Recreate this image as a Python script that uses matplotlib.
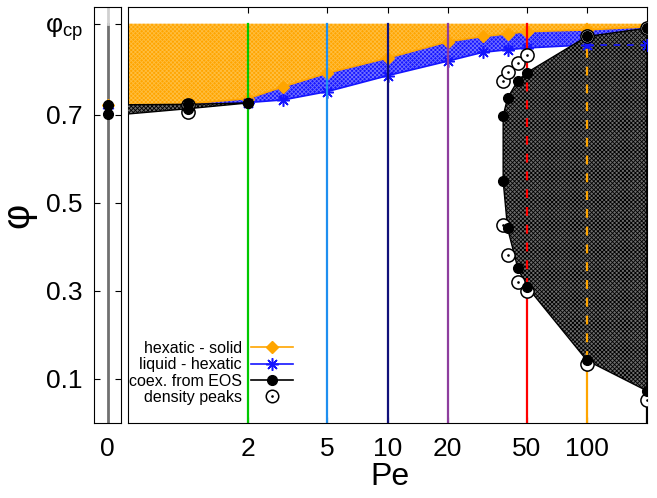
import matplotlib.pyplot as plt
import numpy as np
from matplotlib.lines import Line2D
from matplotlib.ticker import NullLocator
from matplotlib.legend_handler import HandlerTuple

plt.rcParams['font.family'] = ['Liberation Sans', 'DejaVu Sans']
plt.rcParams['mathtext.fontset'] = 'custom'
plt.rcParams['mathtext.rm'] = 'Liberation Sans'
plt.rcParams['hatch.linewidth'] = 0.6

PHI_CP = np.pi / (2 * np.sqrt(3))

# passive system (Pe = 0), left panel
phi_eos_pe0 = [0.702, 0.723]
phi_hs_pe0 = 0.722
phi_lh_pe0 = 0.716

# hexatic - solid / liquid - hexatic boundaries
pe_bound = [1, 2, 3, 5, 10, 20, 30, 40, 50, 100, 200]
phi_hs = [0.725, 0.737, 0.764, 0.795, 0.829, 0.866, 0.878, 0.884, 0.889, 0.893, 0.900]
phi_lh = [0.721, 0.728, 0.734, 0.753, 0.789, 0.822, 0.842, 0.848, 0.852, 0.859, 0.859]

# coexistence from EOS, low Pe
pe_eos_low = [1, 2]
phi_eos_low_lo = [0.714, 0.727]
phi_eos_low_hi = [0.724, 0.727]

# coexistence from EOS, MIPS
pe_mips = [38, 40, 45, 50, 100, 200]
phi_mips_lo = [0.55, 0.442, 0.352, 0.31, 0.142, 0.073]
phi_mips_hi = [0.698, 0.738, 0.778, 0.796, 0.878, 0.897]

# density peaks
pe_peaks = [1, 38, 40, 45, 50, 100, 200]
phi_peaks_lo = [0.707, 0.45, 0.381, 0.321, 0.30, 0.133, 0.052]
phi_peaks_hi = [0.723, 0.778, 0.797, 0.817, 0.836, 0.878, 0.897]

# simulated Pe values
pe_lines = [2, 5, 10, 20, 50, 100, 200]
line_colors = ['#00c800', '#1e8ff0', '#10107a', '#8e3e9e', '#ff0000', '#ffa500', '#000000']

xticks = [2, 5, 10, 20, 50, 100]
yticks = [0.1, 0.3, 0.5, 0.7, PHI_CP]
ytick_labels = ['0.1', '0.3', '0.5', '0.7', r'$\mathregular{φ_{cp}}$']

ORANGE = '#ffa500'
BLUE = '#1515ff'
GREY = '#6e6e6e'
HATCH = 'x' * 8

fig = plt.figure(figsize=(6.57, 4.98), dpi=100)
W, H = 657, 498
ax0 = fig.add_axes([94 / W, 75 / H, 27 / W, 416 / H])
ax = fig.add_axes([128 / W, 75 / H, 519 / W, 416 / H])

# ---- left panel (Pe = 0)
ax0.plot([0, 0], [0, PHI_CP], color='#707070', lw=2, zorder=1)
ax0.plot([0, 0], [PHI_CP, 1], color='#d0d0d0', lw=2, zorder=1)
ax0.plot([0], [phi_hs_pe0], 'D', color=ORANGE, ms=6, zorder=2)
ax0.plot([0], [phi_lh_pe0], marker=(8, 2, 0), color=BLUE, ms=8, zorder=2)
ax0.plot([0, 0], phi_eos_pe0, 'o', color='black', ms=7, zorder=3)
ax0.set_xlim(-1, 1)
ax0.set_ylim(0, 0.945)
ax0.set_xticks([0])
ax0.set_xticklabels(['0'])
ax0.set_yticks(yticks)
ax0.set_yticklabels(ytick_labels)
ax0.tick_params(axis='y', direction='in', left=True, right=True, length=4, labelsize=19, pad=8)
ax0.tick_params(axis='x', direction='in', length=0, labelsize=19, pad=10)

# ---- main panel
xmin = 0.5
x_b = [xmin] + pe_bound
ax.fill_between(x_b, [phi_hs_pe0] + phi_hs, PHI_CP, facecolor=ORANGE,
                hatch=HATCH, edgecolor='#ffbe40', linewidth=0, zorder=1)
ax.fill_between(x_b, [phi_lh_pe0] + phi_lh, [phi_hs_pe0] + phi_hs, facecolor=BLUE,
                hatch=HATCH, edgecolor='#7070ff', linewidth=0, zorder=1.2)

ax.plot(pe_bound, phi_hs, color=ORANGE, marker='D', ms=6, lw=1.2, zorder=2)
i100 = pe_bound.index(100)
ax.plot(pe_bound[:i100 + 1], phi_lh[:i100 + 1], color=BLUE, marker=(8, 2, 0),
        ms=9, mew=1.1, lw=1.2, zorder=2)
ax.plot(pe_bound[i100:], phi_lh[i100:], color=BLUE, marker=(8, 2, 0),
        ms=9, mew=1.1, lw=1.2, ls=(0, (4, 4)), zorder=3.5)

# vertical lines at simulated Pe
for pe, c in zip(pe_lines, line_colors):
    ax.plot([pe, pe], [0, PHI_CP], color=c, lw=1.6, zorder=2.5)
    if pe in pe_mips:
        k = pe_mips.index(pe)
        ax.plot([pe, pe], [phi_mips_lo[k], phi_mips_hi[k]], color=c, lw=1.6,
                ls=(0, (4, 4)), zorder=3.5)

# coexistence regions
ax.fill_between([xmin] + pe_eos_low, [phi_eos_pe0[0]] + phi_eos_low_lo,
                [phi_eos_pe0[1]] + phi_eos_low_hi, facecolor=GREY,
                hatch=HATCH, edgecolor='black', linewidth=0, zorder=3)
ax.plot([xmin] + pe_eos_low, [phi_eos_pe0[0]] + phi_eos_low_lo, color='black', lw=1, zorder=3.2)
ax.plot([xmin] + pe_eos_low, [phi_eos_pe0[1]] + phi_eos_low_hi, color='black', lw=1, zorder=3.2)

poly_x = pe_mips + pe_mips[::-1]
poly_y = phi_mips_lo + phi_mips_hi[::-1]
ax.fill(poly_x, poly_y, facecolor=GREY, hatch=HATCH, edgecolor='black',
        linewidth=0, zorder=3)
ax.plot(poly_x + [poly_x[0]], poly_y + [poly_y[0]], color='black', lw=1, zorder=3.2)

# density peaks
for ys in (phi_peaks_lo, phi_peaks_hi):
    ax.plot(pe_peaks, ys, 'o', mfc='white', mec='black', mew=1.1, ms=9.5, zorder=4)
    ax.plot(pe_peaks, ys, '.', color='black', ms=1.8, zorder=4.1)

# EOS points
ax.plot(pe_eos_low, phi_eos_low_lo, 'o', color='black', ms=7, zorder=5)
ax.plot(pe_eos_low, phi_eos_low_hi, 'o', color='black', ms=7, zorder=5)
ax.plot(pe_mips, phi_mips_lo, 'o', color='black', ms=7, zorder=5)
ax.plot(pe_mips, phi_mips_hi, 'o', color='black', ms=7, zorder=5)

ax.set_xscale('log')
ax.set_xlim(xmin, 200)
ax.set_ylim(0, 0.945)
ax.set_xticks(xticks)
ax.set_xticklabels([str(t) for t in xticks])
ax.xaxis.set_minor_locator(NullLocator())
ax.tick_params(axis='x', direction='in', top=True, length=4, labelsize=19, pad=10)
ax.tick_params(axis='y', left=False, labelleft=False)

# legend
h_hs = Line2D([], [], color=ORANGE, marker='D', ms=6, lw=1.2)
h_lh = Line2D([], [], color=BLUE, marker=(8, 2, 0), ms=9, mew=1.1, lw=1.2)
h_eos = Line2D([], [], color='black', marker='o', ms=7, lw=1.2)
h_pk1 = Line2D([], [], ls='none', marker='o', mfc='white', mec='black', mew=1.1, ms=9)
h_pk2 = Line2D([], [], ls='none', marker='.', color='black', ms=1.8)
leg = ax.legend([h_hs, h_lh, h_eos, (h_pk1, h_pk2)],
                ['hexatic - solid', 'liquid - hexatic', 'coex. from EOS', 'density peaks'],
                handler_map={tuple: HandlerTuple(ndivide=1)},
                loc='upper right', bbox_to_anchor=(301 / W, 1 - 333 / H),
                bbox_transform=fig.transFigure, frameon=False, markerfirst=False,
                fontsize=11.5, labelspacing=0.08, handlelength=2.6, handletextpad=0.6,
                borderpad=0)

fig.text(18 / W, 1 - 215 / H, 'φ', rotation=90, ha='center', va='center', fontsize=28)
fig.text(390 / W, 1 - 462 / H, 'Pe', ha='center', va='top', fontsize=23)

fig.savefig('out.png', dpi=100)
